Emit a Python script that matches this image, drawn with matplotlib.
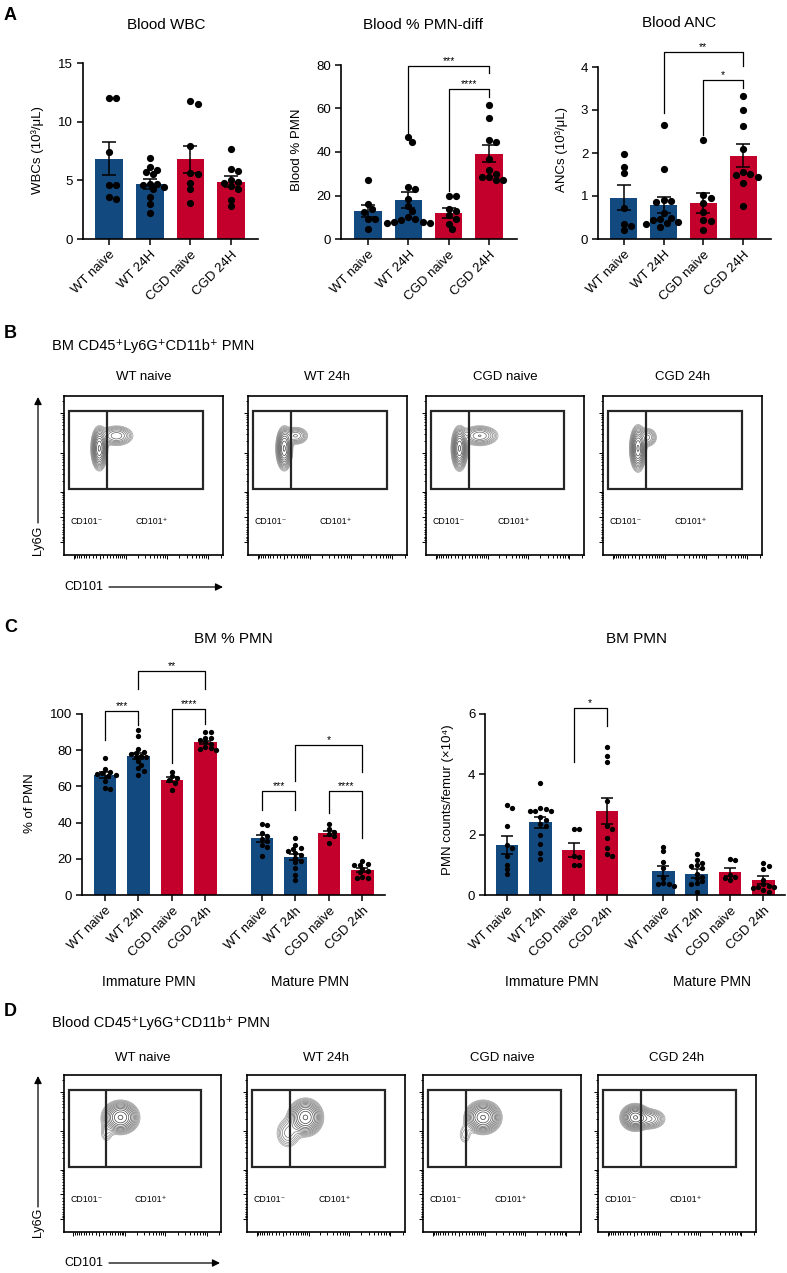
import numpy as np
import matplotlib
matplotlib.use("Agg")
import matplotlib.pyplot as plt
from matplotlib.patches import Rectangle

plt.rcParams['font.family'] = ['Liberation Sans', 'DejaVu Sans']

W, H = 787, 1273
BLUE = '#124A80'
RED = '#C3002B'

# ---------------- data ----------------
labels_A = ['WT naive', 'WT 24H', 'CGD naive', 'CGD 24H']
labels_C = ['WT naive', 'WT 24h', 'CGD naive', 'CGD 24h']
colors4 = [BLUE, BLUE, RED, RED]

wbc_mean = [6.85, 4.7, 6.8, 4.9]
wbc_sem = [1.4, 0.4, 1.15, 0.45]
wbc_pts = [[12.0, 12.0, 7.4, 4.6, 4.6, 3.6, 3.4],
           [6.9, 6.1, 5.9, 5.7, 5.5, 4.7, 4.7, 4.6, 4.4, 4.3, 3.6, 3.0, 2.2],
           [11.8, 11.5, 7.9, 5.6, 5.5, 4.8, 4.3, 3.1],
           [7.7, 6.0, 5.8, 5.0, 4.9, 4.8, 4.5, 4.3, 3.3, 2.8]]

pmn_mean = [12.9, 18.0, 12.1, 39.2]
pmn_sem = [2.9, 3.7, 2.3, 4.0]
pmn_pts = [[26.9, 16.0, 13.7, 12.5, 9.2, 9.0, 4.6],
           [46.9, 44.7, 24.0, 23.0, 18.4, 15.0, 12.9, 10.0, 9.4, 8.6, 8.0, 7.8, 7.5, 7.5],
           [19.7, 19.7, 14.0, 13.0, 11.0, 9.2, 6.8, 4.6],
           [61.5, 55.8, 45.6, 44.6, 36.6, 31.8, 29.8, 28.6, 28.4, 26.9, 27.0]]
pmn_brackets = [(1, 3, 79.7, 47.0, 76.5, '***'), (2, 3, 68.8, 22.0, 65.4, '****')]

anc_mean = [0.96, 0.79, 0.84, 1.94]
anc_sem = [0.29, 0.19, 0.24, 0.26]
anc_pts = [[1.98, 1.68, 1.54, 0.72, 0.36, 0.30, 0.22],
           [2.65, 1.63, 0.90, 0.88, 0.85, 0.60, 0.50, 0.47, 0.45, 0.40, 0.37, 0.35, 0.28],
           [2.30, 1.02, 0.95, 0.84, 0.62, 0.44, 0.42, 0.20],
           [3.33, 3.00, 2.63, 2.10, 1.55, 1.52, 1.50, 1.45, 1.30, 0.76]]
anc_brackets = [(1, 3, 4.35, 2.93, 4.02, '**'), (2, 3, 3.69, 2.43, 3.52, '*')]

# BM: 4 immature groups then 4 mature groups
bm_pos = [0, 1, 2, 3, 4.7, 5.7, 6.7, 7.7]
bm_pct_mean = [66.1, 76.8, 63.7, 84.3, 31.3, 21.0, 34.0, 13.8]
bm_pct_sem = [1.6, 1.8, 1.5, 1.0, 1.9, 1.8, 1.6, 1.0]
bm_pct_pts = [[75.5, 69.5, 68.0, 67.5, 67.0, 66.5, 66.0, 63.0, 59.0, 58.5],
              [91.0, 88.0, 80.5, 79.0, 78.5, 78.0, 77.0, 76.5, 76.0, 74.0, 72.0, 70.0, 68.5, 66.5],
              [68.2, 65.5, 64.5, 63.5, 62.0, 58.2],
              [90.0, 90.0, 87.0, 86.5, 85.5, 84.5, 83.5, 82.0, 81.0, 80.5, 80.0],
              [39.5, 38.8, 34.0, 32.5, 31.0, 30.0, 27.5, 26.5, 21.5],
              [31.5, 27.5, 25.8, 25.3, 24.5, 23.0, 22.0, 20.5, 19.0, 18.0, 15.0, 11.0, 8.5],
              [39.5, 36.5, 35.0, 33.5, 32.5, 28.5],
              [18.8, 17.0, 16.7, 16.5, 14.5, 13.5, 12.5, 10.0, 9.6, 9.4]]
bm_pct_brackets = [(0, 1, 101.8, 85.8, 94.1, '***'), (2, 3, 102.8, 72.9, 94.5, '****'),
                   (1, 3, 123.6, 113.8, 113.8, '**'), (4, 5, 57.3, 47.1, 47.1, '***'),
                   (6, 7, 57.3, 45.3, 31.5, '****'), (5, 7, 82.7, 62.8, 67.8, '*')]

bm_cnt_mean = [1.65, 2.41, 1.49, 2.78, 0.80, 0.71, 0.76, 0.49]
bm_cnt_sem = [0.29, 0.19, 0.24, 0.44, 0.17, 0.15, 0.13, 0.13]
bm_cnt_pts = [[3.0, 2.9, 2.3, 1.65, 1.55, 1.3, 1.0, 0.85, 0.7],
              [3.7, 2.9, 2.85, 2.8, 2.8, 2.8, 2.6, 2.5, 2.35, 2.3, 2.0, 1.7, 1.4, 1.2],
              [2.2, 2.2, 1.3, 1.25, 1.0, 1.0],
              [4.9, 4.6, 4.4, 3.1, 2.3, 2.2, 1.9, 1.55, 1.35, 1.3],
              [1.6, 1.45, 1.1, 0.9, 0.55, 0.4, 0.35, 0.35, 0.3],
              [1.35, 1.15, 1.05, 1.0, 0.95, 0.9, 0.7, 0.6, 0.55, 0.45, 0.4, 0.35, 0.1],
              [1.2, 1.15, 0.65, 0.6, 0.55, 0.5],
              [1.05, 0.95, 0.85, 0.5, 0.35, 0.3, 0.28, 0.25, 0.22, 0.15, 0.1]]
bm_cnt_brackets = [(2, 3, 6.2, 4.4, 5.6, '*')]

# flow contour populations: (cx, cy, sx, sy, weight) in plot fractions
flow_titles = ['WT naive', 'WT 24h', 'CGD naive', 'CGD 24h']
bm_flow = [[(0.222, 0.67, 0.021, 0.055, 1.0), (0.33, 0.75, 0.050, 0.030, 0.30)],
           [(0.228, 0.67, 0.021, 0.055, 1.0), (0.30, 0.75, 0.038, 0.027, 0.25)],
           [(0.212, 0.67, 0.021, 0.056, 1.0), (0.34, 0.75, 0.055, 0.030, 0.32)],
           [(0.22, 0.67, 0.021, 0.058, 1.0), (0.28, 0.74, 0.030, 0.030, 0.20)]]
blood_flow = [[(0.36, 0.73, 0.048, 0.043, 1.0), (0.27, 0.63, 0.025, 0.040, 0.07)],
              [(0.37, 0.73, 0.045, 0.048, 1.0), (0.26, 0.63, 0.040, 0.050, 0.16)],
              [(0.38, 0.73, 0.047, 0.043, 1.0), (0.265, 0.62, 0.025, 0.040, 0.07)],
              [(0.235, 0.73, 0.038, 0.035, 1.0), (0.33, 0.72, 0.045, 0.030, 0.32)]]

fig = plt.figure(figsize=(W / 100, H / 100), dpi=100)


def px_ax(l, t, r, b):
    return fig.add_axes([l / W, 1 - b / H, (r - l) / W, (b - t) / H])


def swarm(ax, x0, vals, d):
    # place points side by side where they would overlap (display coords)
    tr = ax.transData
    x0d = tr.transform((x0, 0))[0]
    placed = []
    out = []
    for v in vals:
        yd = tr.transform((x0, v))[1]
        k = 0
        while True:
            off = ((k + 1) // 2) * (1 if k % 2 else -1) * d * 0.5
            if all((px - (x0d + off)) ** 2 + (py - yd) ** 2 >= (d * 0.8) ** 2 for px, py in placed):
                break
            k += 1
        placed.append((x0d + off, yd))
        out.append(tr.inverted().transform((x0d + off, yd))[0])
    return out


def bar_panel(box, pos, means, sems, pts, ylim, yticks, xlim, labels, dot, cap, brackets, tfs):
    ax = px_ax(*box)
    ax.set_xlim(xlim)
    ax.set_ylim(ylim)
    cols = colors4 * (len(pos) // 4)
    ax.bar(pos, means, width=0.68, color=cols, zorder=1)
    ax.errorbar(pos, means, yerr=sems, fmt='none', ecolor='k', elinewidth=1.1,
                capsize=cap, capthick=1.1, zorder=3)
    d_px = dot * 100 / 72
    for p, vals in zip(pos, pts):
        xs = swarm(ax, p, vals, d_px)
        ax.scatter(xs, vals, s=dot ** 2, color='k', linewidths=0, zorder=4, clip_on=False)
    for i, j, y, yl, yr, txt in brackets:
        ax.plot([pos[i], pos[i], pos[j], pos[j]], [yl, y, y, yr], color='k', lw=0.9,
                clip_on=False, zorder=5)
        ax.text((pos[i] + pos[j]) / 2, y, txt, ha='center', va='bottom', fontsize=7.5)
    for s in ['top', 'right']:
        ax.spines[s].set_visible(False)
    for s in ['left', 'bottom']:
        ax.spines[s].set_linewidth(1.2)
    ax.set_yticks(yticks)
    ax.set_xticks(pos)
    ax.set_xticklabels(labels, rotation=45, ha='right', rotation_mode='anchor')
    ax.tick_params(direction='out', length=4, width=1.1, labelsize=tfs, pad=3)
    ax.patch.set_alpha(0)
    return ax


# ---------------- panel A ----------------
bar_panel((83, 63, 258, 239), [0, 1, 2, 3], wbc_mean, wbc_sem, wbc_pts, (0, 15), [0, 5, 10, 15],
          (-0.64, 3.66), labels_A, 5.2, 5, [], 9.5)
bar_panel((341, 65, 517, 239), [0, 1, 2, 3], pmn_mean, pmn_sem, pmn_pts, (0, 80), [0, 20, 40, 60, 80],
          (-0.67, 3.7), labels_A, 5.2, 5, pmn_brackets, 9.5)
bar_panel((598, 67, 771, 239), [0, 1, 2, 3], anc_mean, anc_sem, anc_pts, (0, 4), [0, 1, 2, 3, 4],
          (-0.65, 3.7), labels_A, 5.2, 5, anc_brackets, 9.5)

# ---------------- panel C ----------------
bar_panel((82, 714, 385, 895), bm_pos, bm_pct_mean, bm_pct_sem, bm_pct_pts, (0, 100),
          [0, 20, 40, 60, 80, 100], (-0.69, 8.38), labels_C * 2, 3.8, 4.5, bm_pct_brackets, 9.5)
bar_panel((485, 714, 785, 895), bm_pos, bm_cnt_mean, bm_cnt_sem, bm_cnt_pts, (0, 6),
          [0, 2, 4, 6], (-0.66, 8.35), labels_C * 2, 3.8, 4.5, bm_cnt_brackets, 9.5)


# ---------------- flow panels ----------------
def biex(v, zero, k):
    return zero + k * np.arcsinh(np.asarray(v, float) / 500.0)


major_vals = [-1000, 0, 1e3, 1e4, 1e5]
minor_vals = ([-100 * i for i in range(2, 10)] + [-100, 100] + [100 * i for i in range(2, 10)]
              + [1e3 * i for i in range(2, 10)] + [1e4 * i for i in range(2, 10)] + [2e5])
contour_cols = [plt.cm.gray(v) for v in np.linspace(0.62, 0.22, 13)]


def flow_panel(box, comps):
    ax = px_ax(*box)
    ax.set_xlim(0, 1)
    ax.set_ylim(0, 1)
    gx, gy = np.meshgrid(np.linspace(0, 1, 400), np.linspace(0, 1, 400))
    z = np.zeros_like(gx)
    for cx, cy, sx, sy, w in comps:
        z += w * np.exp(-((gx - cx) ** 2 / (2 * sx ** 2) + (gy - cy) ** 2 / (2 * sy ** 2)))
    ax.contour(gx, gy, z, levels=z.max() * np.geomspace(0.035, 0.95, 13), colors=contour_cols,
               linewidths=0.5)
    gx0, gx1, gdiv, gy0, gy1 = 0.031, 0.874, 0.27, 0.415, 0.906
    ax.add_patch(Rectangle((gx0, gy0), gx1 - gx0, gy1 - gy0, fill=False, lw=1.6, ec='#262626'))
    ax.plot([gdiv, gdiv], [gy0, gy1], color='#262626', lw=1.6, solid_capstyle='butt')
    ax.text(0.04, 0.21, 'CD101\u207b', fontsize=6.3, va='center', ha='left')
    ax.text(0.45, 0.21, 'CD101\u207a', fontsize=6.3, va='center', ha='left')
    xmaj = [p for p in biex(major_vals, 0.225, 0.114) if 0 <= p <= 1]
    xmin = [p for p in biex(minor_vals, 0.225, 0.114) if 0 <= p <= 1]
    ymaj = [p for p in biex(major_vals, 0.24, 0.109) if 0 <= p <= 1]
    ymin = [p for p in biex(minor_vals, 0.24, 0.109) if 0 <= p <= 1]
    ax.set_xticks(xmaj)
    ax.set_xticks(xmin, minor=True)
    ax.set_yticks(ymaj)
    ax.set_yticks(ymin, minor=True)
    ax.tick_params(which='both', direction='out', labelbottom=False, labelleft=False, width=0.7)
    ax.tick_params(which='major', length=3.2)
    ax.tick_params(which='minor', length=1.8)
    for s in ax.spines.values():
        s.set_linewidth(1.2)


bm_boxes = [(64, 223), (248, 407), (426, 584), (603, 762)]
for (l, r), comps in zip(bm_boxes, bm_flow):
    flow_panel((l, 396, r, 555), comps)
blood_boxes = [(64, 221), (247, 405), (423, 581), (598, 756)]
for (l, r), comps in zip(blood_boxes, blood_flow):
    flow_panel((l, 1075, r, 1232), comps)

# ---------------- overlay text ----------------
ov = fig.add_axes([0, 0, 1, 1], zorder=10)
ov.set_xlim(0, W)
ov.set_ylim(H, 0)
ov.axis('off')

for letter, y in [('A', 15), ('B', 333), ('C', 627), ('D', 1012)]:
    ov.text(4, y, letter, fontsize=13, fontweight='bold', ha='left', va='center')

for txt, x, y in [('Blood WBC', 166, 25), ('Blood % PMN-diff', 423, 25), ('Blood ANC', 679, 23),
                  ('BM % PMN', 233, 639), ('BM PMN', 636, 639)]:
    ov.text(x, y, txt, fontsize=11, ha='center', va='center')

for txt, x, y in [('WBCs (10\u00b3/\u03bcL)', 38, 150), ('Blood % PMN', 297, 150),
                  ('ANCs (10\u00b3/\u03bcL)', 562, 150), ('% of PMN', 30, 803),
                  ('PMN counts/femur (\u00d710\u2074)', 448, 800)]:
    ov.text(x, y, txt, fontsize=9.5, rotation=90, ha='center', va='center')

for txt, x in [('Immature PMN', 149), ('Mature PMN', 310), ('Immature PMN', 552), ('Mature PMN', 712)]:
    ov.text(x, 982, txt, fontsize=10, ha='center', va='center')

ov.text(52, 346, 'BM CD45\u207aLy6G\u207aCD11b\u207a PMN', fontsize=10.5, ha='left', va='center')
ov.text(52, 1023, 'Blood CD45\u207aLy6G\u207aCD11b\u207a PMN', fontsize=10.5, ha='left', va='center')
for (l, r), t in zip(bm_boxes, flow_titles):
    ov.text((l + r) / 2, 377, t, fontsize=9.5, ha='center', va='center')
for (l, r), t in zip(blood_boxes, flow_titles):
    ov.text((l + r) / 2, 1058, t, fontsize=9.5, ha='center', va='center')

arrow = dict(arrowstyle='-|>', lw=0.9, color='k', mutation_scale=11, shrinkA=0, shrinkB=0)
for ytxt, ybot, ytop, yx, xend in [(540, 523, 397, 587, 223), (1222, 1207, 1076, 1263, 220)]:
    ov.text(38, ytxt, 'Ly6G', fontsize=9, rotation=90, ha='center', va='center')
    ov.annotate('', xy=(38, ytop), xytext=(38, ybot), arrowprops=arrow)
    ov.text(64, yx, 'CD101', fontsize=9, ha='left', va='center')
    ov.annotate('', xy=(xend, yx), xytext=(109, yx), arrowprops=arrow)

fig.savefig('out.png', dpi=100)
